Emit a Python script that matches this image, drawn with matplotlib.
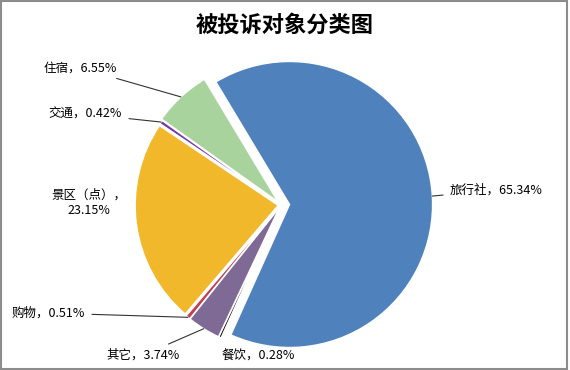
import numpy as np
import matplotlib
matplotlib.use('Agg')
import matplotlib.pyplot as plt
from matplotlib.patches import Rectangle

plt.rcParams['font.family'] = ['Noto Sans CJK SC', 'DejaVu Sans']

# 数据
title = '被投诉对象分类图'
categories = ['旅行社', '餐饮', '其它', '购物', '景区（点）', '交通', '住宿']
shares = [65.34, 0.28, 3.74, 0.51, 23.15, 0.42, 6.55]
colors = ['#4F81BD', '#111111', '#7F6A96', '#C0404F', '#F0B82A', '#7436A8', '#A8D39C']
explode = [0.06, 0.02, 0.02, 0.02, 0.02, 0.02, 0.03]

W, H = 570, 370
cx, cy, R = 281, 205, 143          # центр и радиус пирога в пикселях
half = 155

fig = plt.figure(figsize=(W / 100, H / 100), dpi=100)
ax = fig.add_axes([(cx - half) / W, (H - cy - half) / H, 2 * half / W, 2 * half / H])
lim = half / R

wedges, _ = ax.pie(shares, colors=colors, explode=explode, startangle=121,
                   counterclock=False, radius=1.0, frame=True,
                   wedgeprops=dict(edgecolor='white', linewidth=1.0))
ax.set_xlim(-lim, lim)
ax.set_ylim(-lim, lim)
ax.set_aspect('equal')
ax.axis('off')


def px(x, y):
    return (x - cx) / R, (cy - y) / R


# позиции подписей (пиксели) и выравнивание
label_pos = {
    '旅行社': ((450, 190), 'left', True),
    '餐饮': ((222, 355), 'left', False),
    '其它': ((180, 355), 'right', True),
    '购物': ((85, 313), 'right', True),
    '景区（点）': ((89, 203), 'center', False),
    '交通': ((122, 114), 'right', True),
    '住宿': ((117, 68), 'right', True),
}

for w, name, val, ex in zip(wedges, categories, shares, explode):
    (tx, ty), ha, leader = label_pos[name]
    if name == '景区（点）':
        text = f'{name}，\n{val:.2f}%'
    else:
        text = f'{name}，{val:.2f}%'
    mid = np.deg2rad((w.theta1 + w.theta2) / 2)
    r = 1.0 + ex
    wx, wy = r * np.cos(mid), r * np.sin(mid)
    props = dict(arrowstyle='-', color='#333333', lw=0.8, shrinkA=3, shrinkB=0) if leader else None
    ax.annotate(text, xy=(wx, wy), xytext=px(tx, ty), ha=ha, va='center',
                fontsize=9, color='black', arrowprops=props,
                annotation_clip=False, linespacing=1.3)

fig.text(0.5, 1 - 25 / H, title, ha='center', va='center', fontsize=16, fontweight='bold')
fig.patches.append(Rectangle((0.001, 0.002), 0.994, 0.994, transform=fig.transFigure,
                             fill=False, edgecolor='#8c8c8c', lw=1.5))

fig.savefig('out.png', dpi=100)
